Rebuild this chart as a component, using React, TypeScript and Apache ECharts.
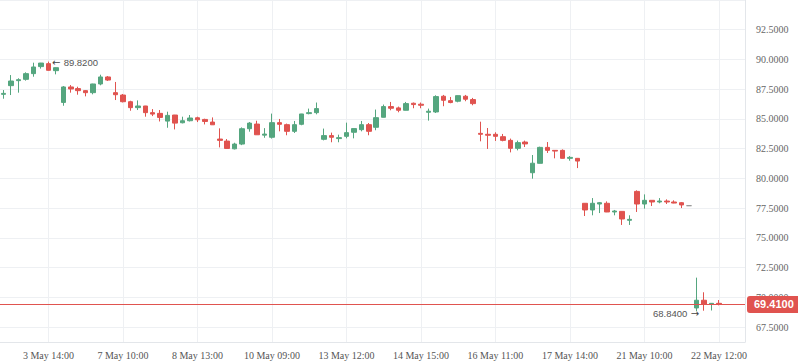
import React, { useEffect, useRef } from "react";
import * as echarts from "echarts";

// Tick labels shown on the x axis (every 10th category starting at index 6)
const tickLabels = [
  "3 May 14:00", "7 May 10:00", "8 May 13:00", "10 May 09:00", "13 May 12:00",
  "14 May 15:00", "16 May 11:00", "17 May 14:00", "21 May 10:00", "22 May 12:00",
];
const CATEGORY_COUNT = 100;
const FIRST_TICK = 6;
const TICK_STEP = 10;

const opens = [
  87.07, 87.80, 88.22, 88.33, 88.81, 89.40, 89.65, 89.06, 86.39, 87.69,
  87.55, 87.38, 87.21, 87.94, 88.53, 87.21, 87.01, 86.45, 85.95, 86.09,
  85.53, 85.47, 84.82, 85.33, 84.68, 84.85, 85.10, 84.96, 84.74, 83.31,
  83.14, 82.49, 82.89, 84.18, 84.57, 83.64, 83.46, 84.69, 84.52, 83.96,
  84.55, 85.45, 85.53, 83.29, 83.60, 83.35, 83.54, 83.88, 84.10, 84.52,
  84.30, 85.14, 86.04, 85.93, 85.73, 86.32, 86.24, 85.56, 85.59, 86.91,
  86.54, 86.49, 86.91, 86.63, 83.79, 83.71, 83.71, 83.51, 83.20, 82.53,
  83.06, 80.48, 81.27, 82.61, 82.36, 82.36, 81.69, 81.69, 77.91, 77.35,
  77.85, 77.91, 77.18, 77.23, 76.48, 78.91, 77.85, 78.16, 78.02, 78.10,
  78.02, 77.96, 77.71, 69.11, 69.76, 69.45, 69.50,
];
const closes = [
  87.15, 88.19, 88.30, 88.81, 89.37, 89.70, 89.09, 89.31, 87.69, 87.52,
  87.38, 87.21, 87.94, 88.53, 88.27, 87.04, 86.45, 85.95, 86.09, 85.53,
  85.41, 85.13, 85.30, 84.65, 84.85, 85.08, 84.93, 84.79, 84.51, 83.20,
  82.52, 82.89, 84.18, 84.65, 83.67, 83.73, 84.69, 84.55, 83.96, 84.52,
  85.42, 85.53, 85.87, 83.60, 83.46, 83.43, 83.85, 84.19, 84.52, 83.96,
  85.11, 86.04, 85.90, 85.73, 86.29, 86.21, 86.15, 85.65, 86.88, 86.57,
  86.38, 86.96, 86.66, 86.29, 83.71, 83.63, 83.54, 83.20, 82.53, 83.01,
  82.90, 81.28, 82.61, 82.36, 82.30, 81.69, 81.77, 81.46, 77.35, 77.91,
  77.96, 77.18, 77.26, 76.59, 76.56, 77.85, 78.16, 78.02, 78.10, 78.02,
  77.93, 77.77, 77.71, 69.76, 69.42, 69.50, 69.41,
];
const lows = [
  86.70, 87.01, 87.21, 88.22, 88.55, 89.23, 89.06, 88.75, 86.11, 87.21,
  87.04, 86.90, 87.07, 87.83, 88.19, 86.59, 86.39, 85.69, 85.75, 85.19,
  85.24, 84.79, 84.26, 84.12, 84.63, 84.79, 84.74, 84.54, 84.50, 82.61,
  82.49, 82.44, 82.80, 83.93, 83.66, 83.42, 83.35, 83.96, 83.63, 83.82,
  84.47, 85.39, 85.39, 83.20, 83.04, 83.04, 83.37, 83.37, 83.96, 83.63,
  84.05, 85.13, 85.73, 85.56, 85.72, 85.90, 85.90, 84.86, 85.50, 86.07,
  86.32, 86.40, 86.49, 86.15, 83.12, 82.48, 83.15, 83.12, 82.19, 82.36,
  82.64, 79.98, 81.26, 82.14, 81.69, 81.68, 81.49, 80.87, 76.84, 76.90,
  77.09, 77.17, 76.90, 76.09, 76.09, 77.18, 77.46, 77.68, 77.91, 77.85,
  77.91, 77.51, 77.71, 68.84, 68.88, 68.90, 69.33,
];
const highs = [
  87.43, 88.69, 88.42, 88.92, 89.73, 89.71, 89.82, 89.33, 87.77, 87.85,
  87.71, 87.43, 87.96, 88.72, 88.61, 88.11, 87.10, 86.53, 86.56, 86.10,
  85.83, 85.75, 85.61, 85.34, 85.19, 85.33, 85.19, 85.02, 85.13, 84.21,
  83.31, 83.00, 84.29, 84.74, 84.85, 84.23, 85.45, 85.00, 84.61, 84.83,
  85.43, 85.87, 86.38, 84.19, 83.85, 83.68, 84.69, 84.20, 84.83, 84.66,
  85.79, 86.21, 86.43, 86.04, 86.43, 86.38, 86.38, 85.87, 86.99, 87.02,
  86.85, 86.97, 87.02, 86.77, 84.77, 84.24, 83.88, 83.74, 83.35, 83.18,
  83.18, 81.97, 82.67, 83.06, 82.37, 82.44, 81.88, 81.72, 77.92, 78.35,
  78.02, 78.07, 77.35, 77.24, 76.90, 79.00, 78.66, 78.17, 78.35, 78.24,
  78.16, 78.02, 77.71, 71.66, 70.43, 69.51, 69.78,
];

const yMin = 66.25;
const yMax = 95;
const lastPrice = 69.41;

const UP = "#55a67f";
const DOWN = "#e0534f";

export default function App() {
  const ref = useRef<HTMLDivElement>(null);

  useEffect(() => {
    if (!ref.current) return;
    const chart = echarts.init(ref.current, undefined, { renderer: "svg" });

    const categories: string[] = [];
    for (let i = 0; i < CATEGORY_COUNT; i++) {
      const k = (i - FIRST_TICK) / TICK_STEP;
      categories.push(Number.isInteger(k) && k >= 0 && k < tickLabels.length ? tickLabels[k] : "");
    }
    const showTick = (index: number) =>
      index >= FIRST_TICK && (index - FIRST_TICK) % TICK_STEP === 0;

    const candles = opens.map((o, i) => [o, closes[i], lows[i], highs[i]]);

    let hiIdx = 0;
    let loIdx = 0;
    highs.forEach((h, i) => { if (h > highs[hiIdx]) hiIdx = i; });
    lows.forEach((l, i) => { if (l < lows[loIdx]) loIdx = i; });

    const markerRich = {
      a: { fontFamily: "DejaVu Sans", fontSize: 10, color: "#444" },
      n: { fontFamily: "Liberation Sans", fontSize: 9.5, color: "#555" },
    };

    chart.setOption({
      animation: false,
      backgroundColor: "#ffffff",
      grid: { left: 0, right: 53, top: 0, bottom: 21, containLabel: false, outerBoundsMode: "none" },
      xAxis: {
        type: "category",
        data: categories,
        boundaryGap: true,
        axisLine: { show: true, lineStyle: { color: "#e3e6ea" } },
        axisTick: { show: false, alignWithLabel: true, interval: showTick },
        axisLabel: {
          interval: showTick,
          color: "#555",
          fontFamily: "Liberation Serif",
          fontSize: 10,
          margin: 8,
        },
        splitLine: {
          show: true,
          interval: showTick,
          alignWithLabel: true,
          lineStyle: { color: "#eef0f3", width: 1 },
        },
      },
      yAxis: {
        type: "value",
        position: "right",
        min: yMin,
        max: yMax,
        scale: true,
        minInterval: 2.5,
        maxInterval: 2.5,
        axisLine: { show: true, lineStyle: { color: "#e3e6ea" } },
        axisTick: { show: false },
        axisLabel: {
          showMinLabel: false,
          showMaxLabel: false,
          color: "#666",
          fontFamily: "Liberation Serif",
          fontSize: 10,
          margin: 11,
          formatter: (v: number) => v.toFixed(4),
        },
        splitLine: { show: true, lineStyle: { color: "#eef0f3", width: 1 } },
      },
      series: [
        {
          type: "candlestick",
          data: candles,
          barWidth: 5,
          itemStyle: {
            color: UP,
            color0: DOWN,
            borderColor: UP,
            borderColor0: DOWN,
            borderColorDoji: "#999",
            borderWidth: 1,
          },
          markPoint: {
            symbol: "circle",
            symbolSize: 1,
            itemStyle: { color: "transparent" },
            silent: true,
            data: [
              {
                coord: [hiIdx, highs[hiIdx]],
                label: {
                  show: true,
                  position: "right",
                  distance: 3,
                  offset: [0, 1],
                  formatter: "{a|←} {n|" + highs[hiIdx].toFixed(4) + "}",
                  rich: markerRich,
                },
              },
              {
                coord: [loIdx, lows[loIdx]],
                label: {
                  show: true,
                  position: "left",
                  distance: -3,
                  offset: [0, 2],
                  formatter: "{n|" + lows[loIdx].toFixed(4) + "} {a|→}",
                  rich: markerRich,
                },
              },
            ],
          },
          markLine: {
            symbol: ["none", "none"],
            silent: true,
            lineStyle: { color: DOWN, type: "solid", width: 1 },
            label: {
              show: true,
              position: "end",
              distance: 2,
              formatter: lastPrice.toFixed(4),
              color: "#fff",
              fontWeight: "bold",
              fontSize: 11,
              fontFamily: "sans-serif",
              backgroundColor: DOWN,
              borderRadius: 3,
              padding: [3, 7, 3, 7],
            },
            data: [{ yAxis: lastPrice }],
          },
        },
      ],
    });

    return () => chart.dispose();
  }, []);

  return (
    <div
      ref={ref}
      style={{ position: "fixed", left: 0, top: 0, width: 798, height: 363 }}
    />
  );
}
